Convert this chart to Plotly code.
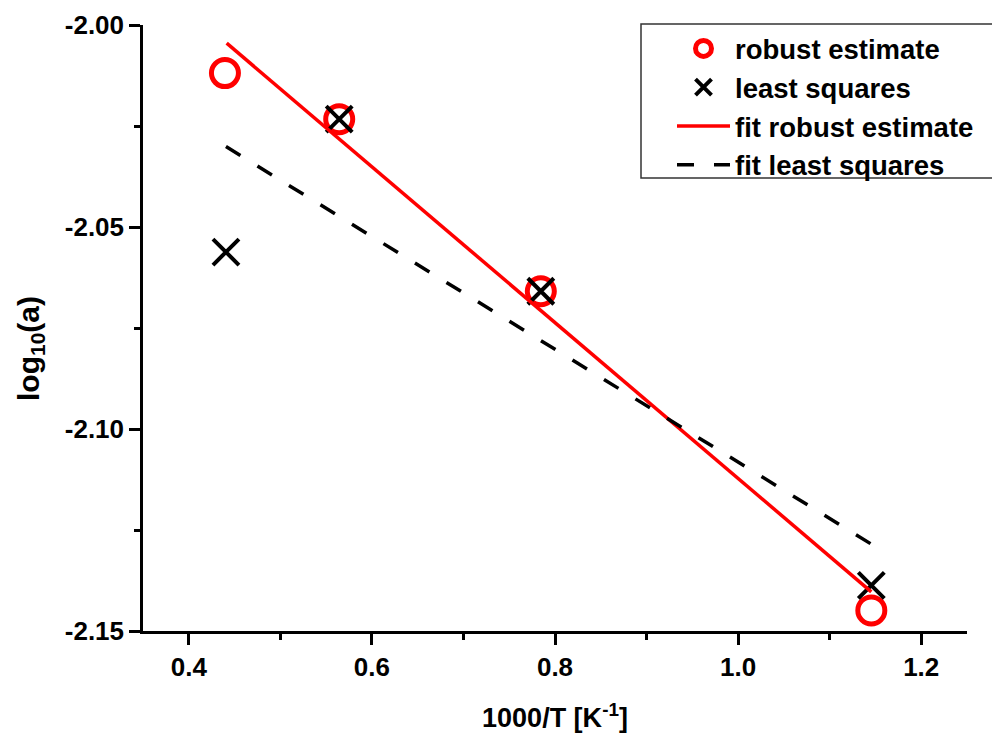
import plotly.graph_objects as go

# Data
x_robust = [0.4395, 0.5643, 0.7845, 1.1455]
y_robust = [-2.0119, -2.0233, -2.0659, -2.1449]

x_ls = [0.4406, 0.5643, 0.7845, 1.1455]
y_ls = [-2.0562, -2.0233, -2.0659, -2.1387]

x_fit_robust = [0.4414, 1.1455]
y_fit_robust = [-2.0045, -2.1403]

x_fit_ls = [0.4406, 1.1455]
y_fit_ls = [-2.0301, -2.1285]

x_tickvals = [0.4, 0.6, 0.8, 1.0, 1.2]
x_ticktext = ["0.4", "0.6", "0.8", "1.0", "1.2"]
y_tickvals = [-2.15, -2.10, -2.05, -2.00]
y_ticktext = ["-2.15", "-2.10", "-2.05", "-2.00"]

FONT = "Liberation Sans"

fig = go.Figure()
fig.add_trace(go.Scatter(
    x=x_robust, y=y_robust, mode="markers", name="robust estimate",
    marker=dict(symbol="circle-open", size=27, color="#ff0000",
                line=dict(width=5, color="#ff0000")),
))
fig.add_trace(go.Scatter(
    x=x_ls, y=y_ls, mode="markers", name="least squares",
    marker=dict(symbol="x-thin-open", size=26, color="#000000",
                line=dict(width=4, color="#000000")),
))
fig.add_trace(go.Scatter(
    x=x_fit_robust, y=y_fit_robust, mode="lines", name="fit robust estimate",
    line=dict(color="#ff0000", width=3.5),
))
fig.add_trace(go.Scatter(
    x=x_fit_ls, y=y_fit_ls, mode="lines", name="fit least squares",
    line=dict(color="#000000", width=3.5, dash="17px,20px"),
))

axis_common = dict(
    showline=True, linecolor="black", linewidth=2.5,
    ticks="outside", ticklen=11, tickwidth=2.5, tickcolor="black",
    showgrid=False, zeroline=False, mirror=False,
    tickfont=dict(family=FONT, size=26, color="black", weight="bold"),
)

fig.update_xaxes(
    range=[0.35, 1.25], tickmode="array",
    tickvals=x_tickvals, ticktext=["<b>%s</b>" % t for t in x_ticktext],
    minor=dict(ticks="outside", ticklen=6, tickwidth=2.5, tickcolor="black",
               dtick=0.1, tick0=0.4, showgrid=False),
    title=dict(text="<b>1000/T [K<sup>-1</sup>]</b>", standoff=28,
               font=dict(family=FONT, size=27, color="black", weight="bold")),
    **axis_common,
)
fig.update_yaxes(
    range=[-2.15, -2.00], tickmode="array",
    tickvals=y_tickvals, ticktext=["<b>%s</b>" % t for t in y_ticktext],
    minor=dict(ticks="outside", ticklen=6, tickwidth=2.5, tickcolor="black",
               dtick=0.025, tick0=-2.15, showgrid=False),
    **axis_common,
)

# y-axis title as rotated text (screen centre ~ x=30, y=349)
fig.add_annotation(
    text="<b>log<sub>10</sub>(a)</b>", textangle=-90,
    xref="paper", yref="paper",
    x=(30 - 143) / 824, y=1 - (349 - 25) / 606,
    xanchor="center", yanchor="middle", showarrow=False,
    font=dict(family=FONT, size=30, color="black", weight="bold"),
)

# legend frame (screen px: 641..999 x, 24..178 y; plot area 143..967 x, 25..631 y)
fig.add_shape(
    type="rect", xref="paper", yref="paper",
    x0=(641 - 143) / 824, x1=(999 - 143) / 824,
    y0=1 - (178 - 25) / 606, y1=1 + (25 - 24) / 606,
    line=dict(color="#333333", width=1.5), fillcolor="rgba(0,0,0,0)",
    layer="above",
)

fig.update_layout(
    width=992, height=732,
    margin=dict(l=135, r=33, t=17, b=109, autoexpand=False),
    plot_bgcolor="white", paper_bgcolor="white",
    font=dict(family=FONT, color="black"),
    legend=dict(
        x=(672 - 143) / 824, xanchor="left", y=1 + (25 - 24) / 606, yanchor="top",
        bgcolor="rgba(0,0,0,0)", borderwidth=0,
        font=dict(family=FONT, size=27.5, color="black", weight="bold"),
        tracegroupgap=0, itemwidth=53,
    ),
    showlegend=True,
)

fig.write_html("out.html")
